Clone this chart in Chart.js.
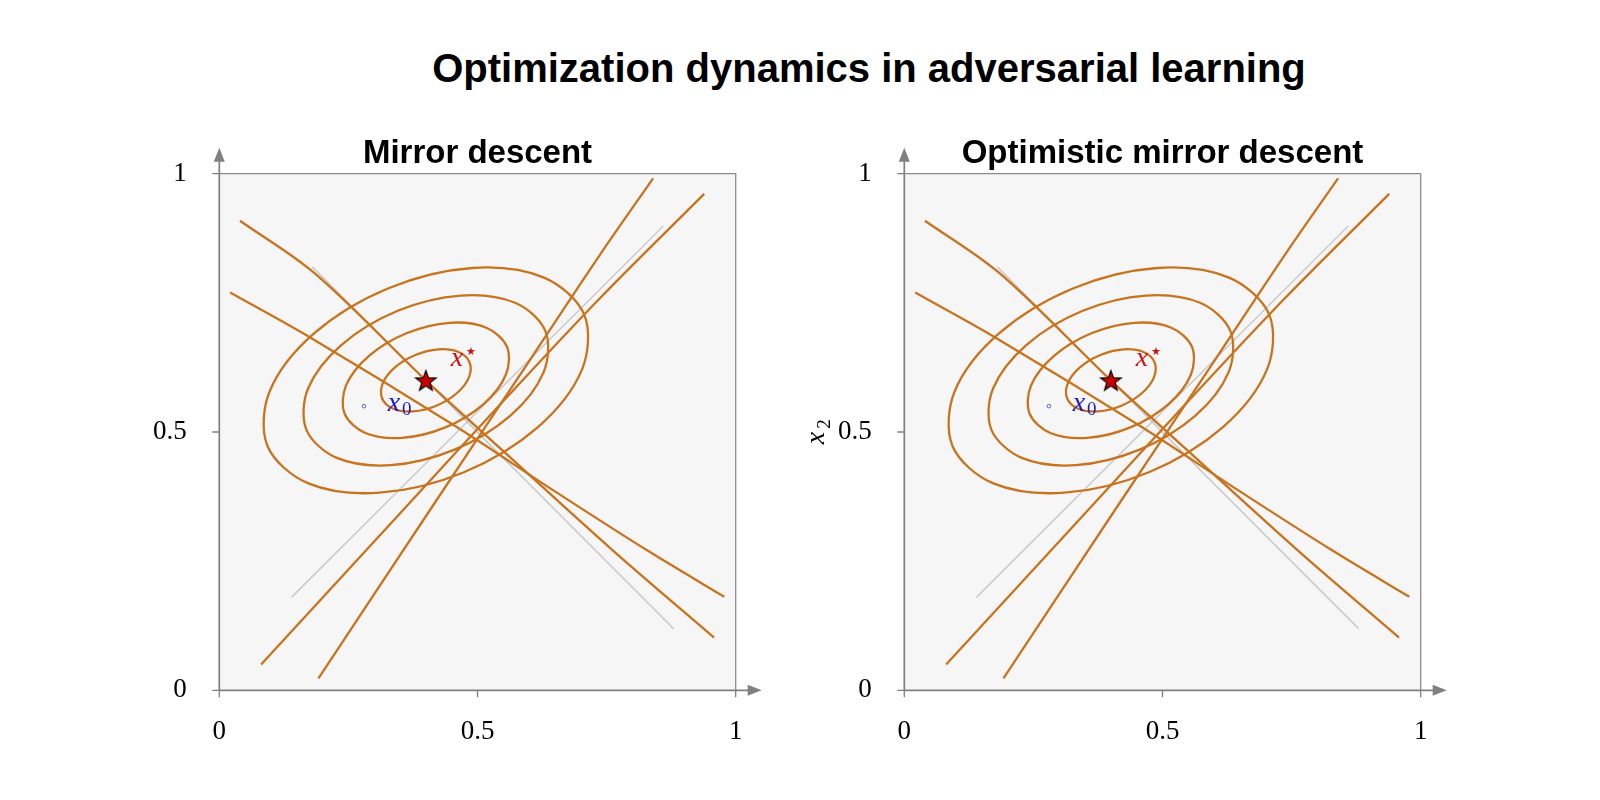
<!DOCTYPE html>
<html>
<head>
<meta charset="utf-8">
<title>Optimization dynamics in adversarial learning</title>
<script src="https://cdn.jsdelivr.net/npm/chart.js@4.4.1/dist/chart.umd.min.js"></script>
<style>
    html, body { margin: 0; padding: 0; background: #fff; }
    #wrap { position: relative; width: 1600px; height: 800px; overflow: hidden; }
    #mainTitle {
        position: absolute; left: 0; top: 46px; width: 1738px;
        text-align: center; line-height: 48px;
        font: bold 40px "Liberation Sans", Arial, sans-serif; color: #000;
    }
    canvas { position: absolute; top: 0; }
</style>
</head>
<body>
<div id="wrap">
    <div id="mainTitle">Optimization dynamics in adversarial learning</div>
    <canvas id="panelLeft" width="780" height="800" style="left:0px"></canvas>
    <canvas id="panelRight" width="780" height="800" style="left:685px"></canvas>
</div>
<script>
// axis ticks (same on both axes, both panels)
const tickValues = [0, 0.5, 1];
const tickLabels = ['0', '0.5', '1'];

const panelTitles = ['Mirror descent', 'Optimistic mirror descent'];

// level sets of the objective around x*
const contour1 = [[0.4846, 0.6351], [0.4631, 0.6549], [0.4247, 0.6600], [0.3797, 0.6491], [0.3401, 0.6250], [0.3166, 0.5942],
                  [0.3154, 0.5649], [0.3369, 0.5451], [0.3753, 0.5400], [0.4203, 0.5509], [0.4599, 0.5750], [0.4834, 0.6058]];
const contour2 = [[0.5571, 0.6651], [0.5171, 0.7019], [0.4459, 0.7114], [0.3623, 0.6911], [0.2888, 0.6464], [0.2451, 0.5892],
                  [0.2429, 0.5349], [0.2829, 0.4981], [0.3541, 0.4886], [0.4377, 0.5089], [0.5112, 0.5536], [0.5549, 0.6108]];
const contour3 = [[0.6313, 0.6958], [0.5726, 0.7501], [0.4676, 0.7641], [0.3444, 0.7342], [0.2362, 0.6683], [0.1719, 0.5841],
                  [0.1687, 0.5042], [0.2275, 0.4499], [0.3325, 0.4359], [0.4556, 0.4659], [0.5638, 0.5318], [0.6281, 0.6159]];
const contour4 = [[0.7067, 0.7271], [0.6288, 0.7989], [0.4896, 0.8175], [0.3264, 0.7778], [0.1829, 0.6904], [0.0976, 0.5789],
                  [0.0933, 0.4729], [0.1712, 0.4011], [0.3104, 0.3825], [0.4736, 0.4222], [0.6171, 0.5096], [0.7025, 0.6212]];

// orange trajectories
const orbit1 = [[0.040, 0.909], [0.185, 0.807], [0.402, 0.598], [0.550, 0.463], [0.763, 0.270], [0.958, 0.102]];
const orbit2 = [[0.021, 0.770], [0.176, 0.683], [0.456, 0.512], [0.650, 0.385], [0.830, 0.270], [0.978, 0.181]];
const orbit3 = [[0.081, 0.050], [0.356, 0.349], [0.550, 0.560], [0.737, 0.759], [0.939, 0.961]];
const orbit4 = [[0.192, 0.023], [0.408, 0.349], [0.580, 0.607], [0.737, 0.843], [0.840, 0.991]];

// gray guide lines
const guide1 = [[0.140, 0.180], [0.860, 0.899]];
const guide2 = [[0.180, 0.820], [0.880, 0.119]];

// markers
const optimum = [[0.40, 0.60]];
const startPoint = [[0.28, 0.55]];

// point labels: x* and x0
const labelPosX = [0.460, 0.338];
const labelPosY = [0.639, 0.552];
const labelScripts = ['\u2605', '0'];

const ORANGE = '#c8731e';

function toXY(pts) {
    return pts.map(p => ({ x: p[0], y: p[1] }));
}

// closed curve: wrap one point on each side, hide the two wrap segments
function contourDataset(pts) {
    const n = pts.length;
    const data = toXY([pts[n - 1], ...pts, pts[0], pts[1]]);
    const last = data.length - 1;
    return {
        data: data,
        showLine: true,
        borderColor: ORANGE,
        borderWidth: 2.3,
        pointRadius: 0,
        tension: 0.33,
        segment: {
            borderColor: ctx => (ctx.p0DataIndex === 0 || ctx.p1DataIndex === last) ? 'rgba(0,0,0,0)' : undefined
        }
    };
}

function orbitDataset(pts) {
    return {
        data: toXY(pts),
        showLine: true,
        borderColor: ORANGE,
        borderWidth: 2.3,
        pointRadius: 0,
        tension: 0.33
    };
}

function guideDataset(pts) {
    return {
        data: toXY(pts),
        showLine: true,
        borderColor: '#c4c4c4',
        borderWidth: 1.3,
        pointRadius: 0
    };
}

// filled five point star for x*
function makeStar() {
    const c = document.createElement('canvas');
    c.width = 26; c.height = 26;
    const g = c.getContext('2d');
    const R = 10.8, r = 4.4;
    g.beginPath();
    for (let i = 0; i < 10; i++) {
        const rad = (i % 2 === 0) ? R : r;
        const a = -Math.PI / 2 + i * Math.PI / 5;
        const px = 13 + rad * Math.cos(a), py = 14 + rad * Math.sin(a);
        if (i === 0) g.moveTo(px, py); else g.lineTo(px, py);
    }
    g.closePath();
    g.fillStyle = '#cc0000';
    g.fill();
    g.strokeStyle = '#000';
    g.lineWidth = 1.2;
    g.stroke();
    return c;
}
const starImage = makeStar();

function buildDatasets() {
    return [
        { data: toXY(optimum), pointStyle: starImage, pointRadius: 11, showLine: false },
        { data: toXY(startPoint), pointStyle: 'circle', pointRadius: 1.8, borderColor: '#3344cc', borderWidth: 0.8,
          backgroundColor: 'rgba(0,0,0,0)', showLine: false },
        contourDataset(contour1),
        contourDataset(contour2),
        contourDataset(contour3),
        contourDataset(contour4),
        orbitDataset(orbit1),
        orbitDataset(orbit2),
        orbitDataset(orbit3),
        orbitDataset(orbit4),
        guideDataset(guide1),
        guideDataset(guide2)
    ];
}

// background, frame, ticks and arrow axes
const axesPlugin = {
    id: 'axesFrame',
    beforeDatasetsDraw(chart) {
        const { ctx, chartArea: a, scales: { x, y } } = chart;
        ctx.save();
        ctx.fillStyle = '#f6f6f6';
        ctx.fillRect(a.left, a.top, a.right - a.left, a.bottom - a.top);

        ctx.strokeStyle = '#8c8c8c';
        ctx.lineWidth = 1.3;
        ctx.beginPath();
        ctx.moveTo(a.left, a.top);
        ctx.lineTo(a.right, a.top);
        ctx.lineTo(a.right, a.bottom);
        ctx.stroke();

        ctx.strokeStyle = '#808080';
        tickValues.forEach(v => {
            const px = x.getPixelForValue(v);
            const py = y.getPixelForValue(v);
            ctx.beginPath();
            ctx.moveTo(px, a.bottom);
            ctx.lineTo(px, a.bottom + 7);
            ctx.moveTo(a.left - 7, py);
            ctx.lineTo(a.left, py);
            ctx.stroke();
        });

        ctx.lineWidth = 1.7;
        ctx.beginPath();
        ctx.moveTo(a.left, a.bottom);
        ctx.lineTo(a.left, a.top - 13);
        ctx.moveTo(a.left, a.bottom);
        ctx.lineTo(a.right + 13, a.bottom);
        ctx.stroke();

        ctx.fillStyle = '#808080';
        ctx.beginPath();
        ctx.moveTo(a.left, a.top - 26);
        ctx.lineTo(a.left - 5.5, a.top - 12);
        ctx.lineTo(a.left + 5.5, a.top - 12);
        ctx.closePath();
        ctx.fill();
        ctx.beginPath();
        ctx.moveTo(a.right + 26, a.bottom);
        ctx.lineTo(a.right + 12, a.bottom - 5.5);
        ctx.lineTo(a.right + 12, a.bottom + 5.5);
        ctx.closePath();
        ctx.fill();
        ctx.restore();
    }
};

// x* / x0 labels and the y axis name
const labelPlugin = {
    id: 'markLabels',
    afterDatasetsDraw(chart, args, opts) {
        const { ctx, chartArea: a, scales: { x, y } } = chart;
        ctx.save();
        const colors = ['#cc1111', '#1a1acc'];
        labelPosX.forEach((lx, i) => {
            const px = x.getPixelForValue(lx);
            const py = y.getPixelForValue(labelPosY[i]);
            ctx.fillStyle = colors[i];
            ctx.textAlign = 'center';
            ctx.textBaseline = 'alphabetic';
            ctx.font = 'italic 28px "Liberation Serif", serif';
            ctx.fillText('x', px, py + 6);
            if (i === 0) {
                ctx.font = '11px "DejaVu Sans", sans-serif';
                ctx.textBaseline = 'middle';
                ctx.fillText(labelScripts[i], px + 14, py - 8);
            } else {
                ctx.font = '19px "Liberation Serif", serif';
                ctx.fillText(labelScripts[i], px + 13, py + 10);
            }
        });

        if (opts.showName) {
            const cx = a.left - 86;
            const cy = (a.top + a.bottom) / 2 + 6;
            ctx.translate(cx, cy);
            ctx.rotate(-Math.PI / 2);
            ctx.fillStyle = '#000';
            ctx.textAlign = 'center';
            ctx.textBaseline = 'alphabetic';
            ctx.font = 'italic 28px "Liberation Serif", serif';
            ctx.fillText('x', 0, 6);
            ctx.font = '19px "Liberation Serif", serif';
            ctx.fillText('2', 14, 12);
        }
        ctx.restore();
    }
};

function makeAxis(fitSize, pad, horizontal) {
    return {
        type: 'linear',
        min: 0,
        max: 1,
        afterBuildTicks: scale => {
            scale.ticks = tickValues.map(v => ({ value: v }));
        },
        afterFit: scale => {
            if (horizontal) scale.height = fitSize; else scale.width = fitSize;
        },
        grid: { display: false, drawTicks: false },
        border: { display: false },
        ticks: {
            padding: pad,
            maxRotation: 0,
            autoSkip: false,
            color: '#000',
            font: { family: '"Liberation Serif", serif', size: 27 },
            callback: value => tickLabels[tickValues.indexOf(value)]
        }
    };
}

function createPanel(canvasId, idx) {
    const ctx = document.getElementById(canvasId).getContext('2d');
    return new Chart(ctx, {
        type: 'scatter',
        data: { datasets: buildDatasets() },
        options: {
            responsive: false,
            animation: false,
            devicePixelRatio: 1,
            layout: { padding: { left: 117.8, right: 44.3, top: 130.1, bottom: 49.7 } },
            scales: {
                x: makeAxis(60, 25, true),
                y: makeAxis(101.5, 32.6, false)
            },
            plugins: {
                legend: { display: false },
                tooltip: { enabled: false },
                title: {
                    display: true,
                    fullSize: false,   // centre the title over the plot area only
                    text: panelTitles[idx],
                    color: '#000',
                    font: { family: '"Liberation Sans", Arial, sans-serif', size: 33, weight: 'bold' },
                    padding: { top: 4, bottom: 0 }
                },
                markLabels: { showName: idx === 1 }
            }
        },
        plugins: [axesPlugin, labelPlugin]
    });
}

createPanel('panelLeft', 0);
createPanel('panelRight', 1);
</script>
</body>
</html>
